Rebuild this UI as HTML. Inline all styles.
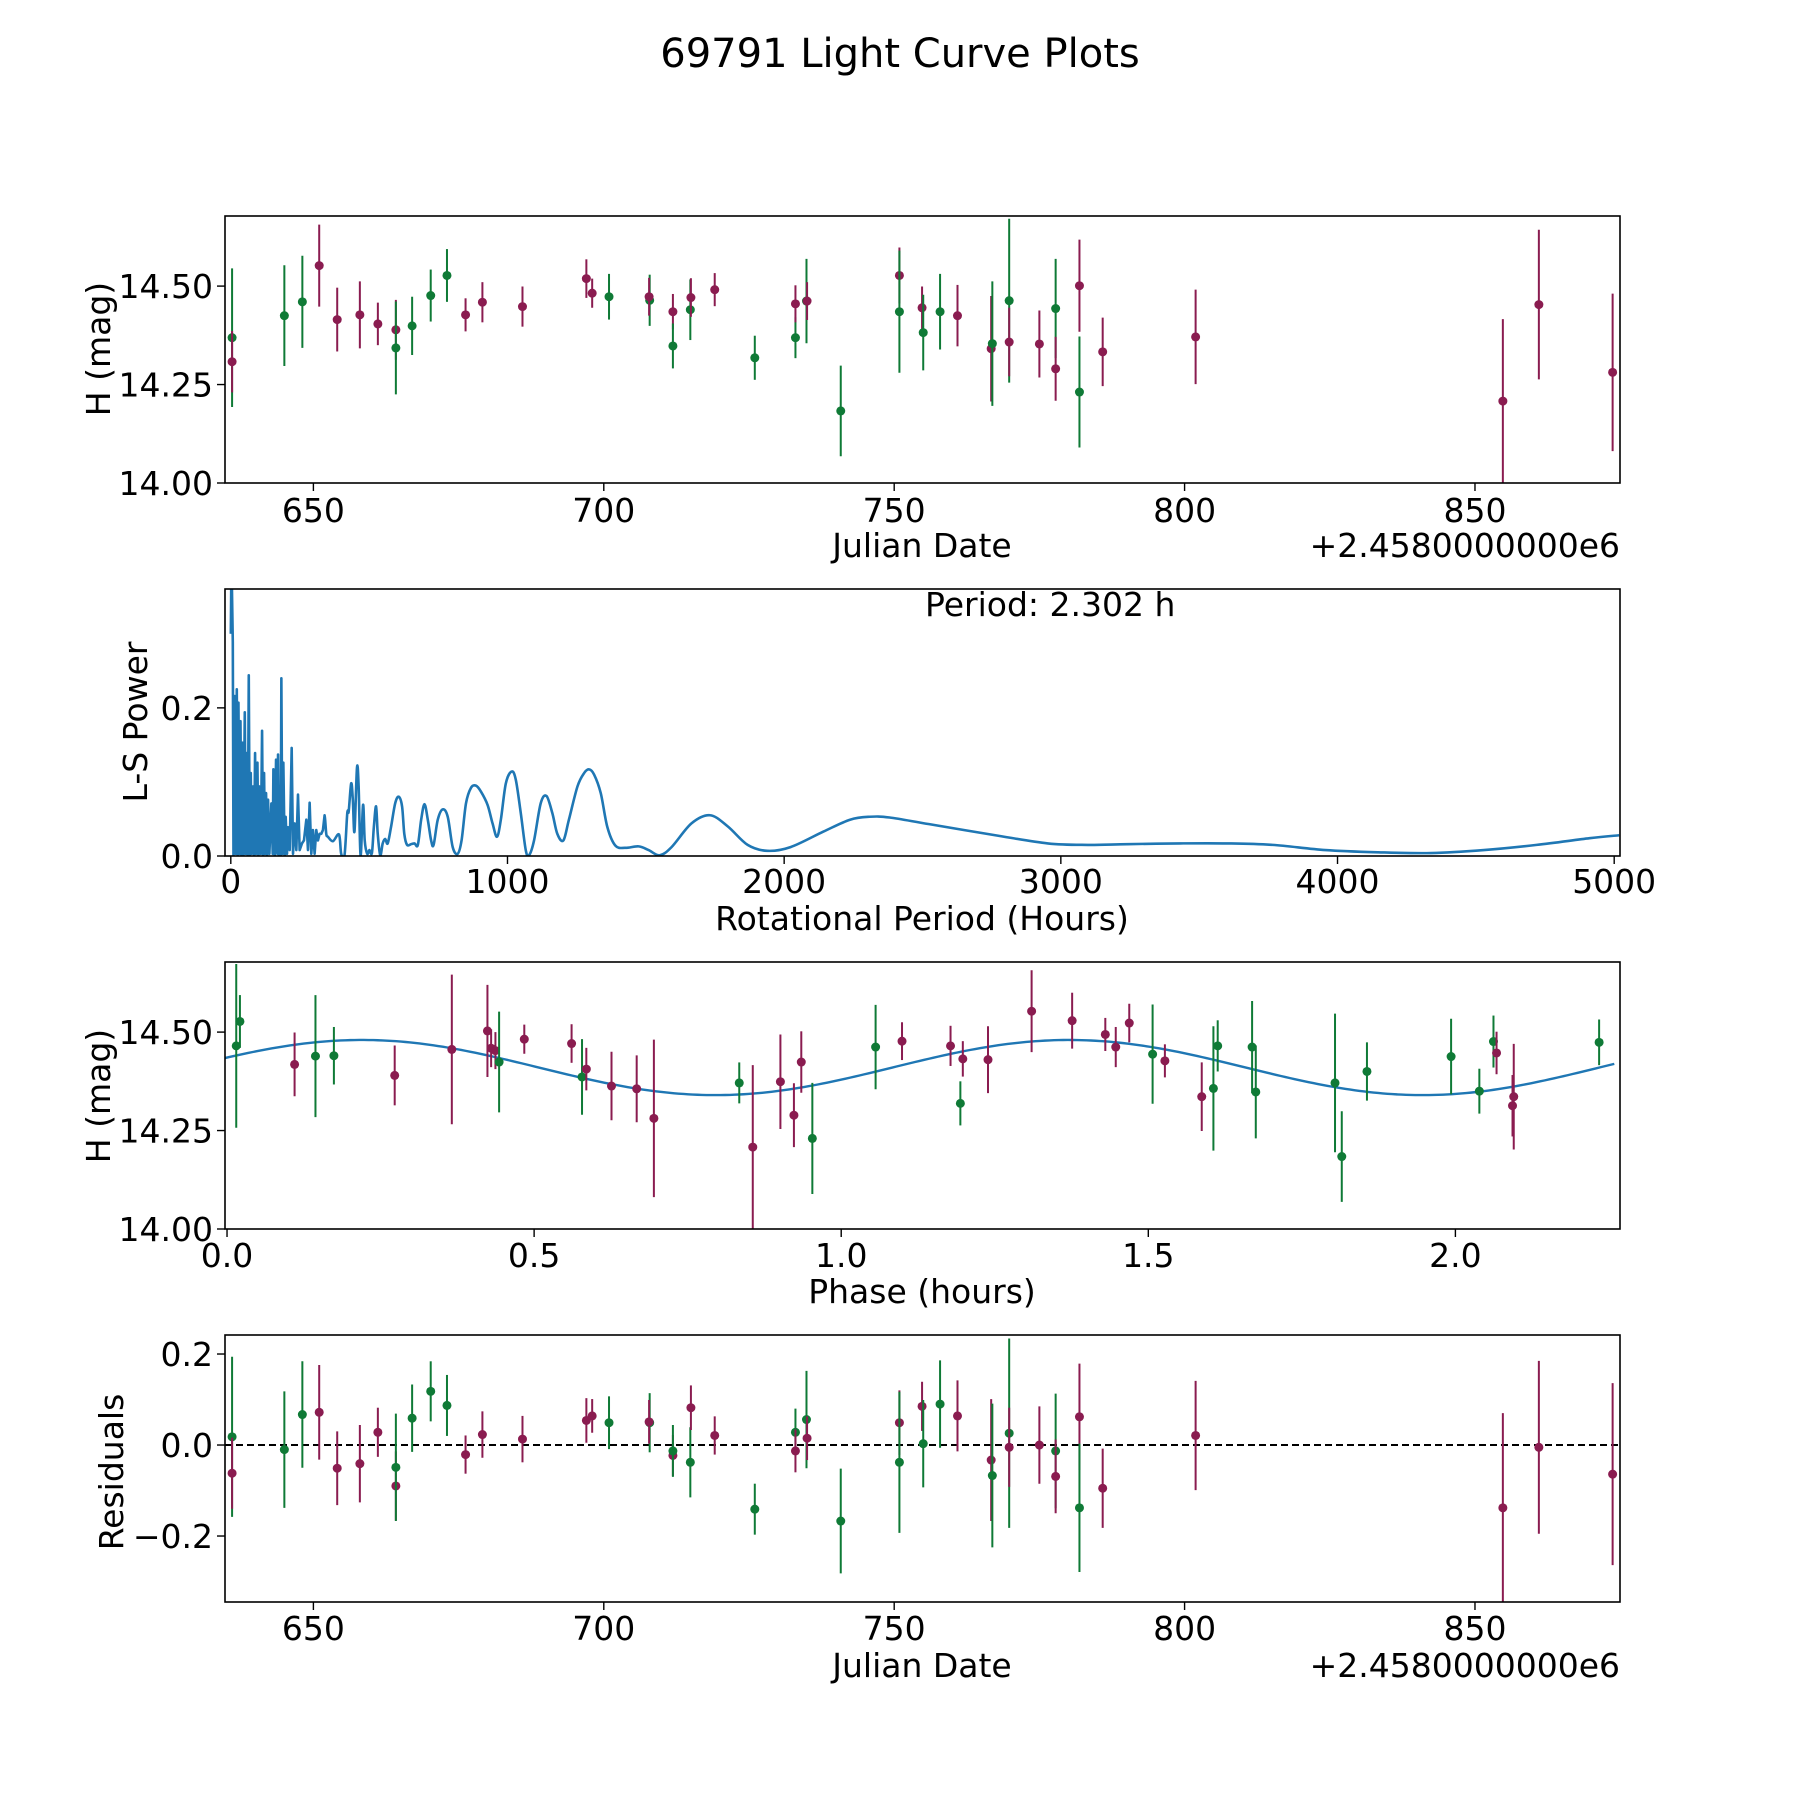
<!DOCTYPE html>
<html><head><meta charset="utf-8"><title>69791 Light Curve Plots</title>
<style>
html,body{margin:0;padding:0;background:#fff;}
svg{display:block;font-family:"DejaVu Sans","Liberation Sans",sans-serif;}
</style></head>
<body>
<svg id="fig" width="1800" height="1800" viewBox="0 0 1800 1800" xmlns="http://www.w3.org/2000/svg">
<rect width="1800" height="1800" fill="#fff"/>
<text x="900" y="67" font-size="40" text-anchor="middle">69791 Light Curve Plots</text>
</svg>
<script>
// ---------- data: light curve ----------
const jd = [636.0,636.0,645.0,648.1,651.0,654.1,658.0,661.1,664.2,664.2,667.0,670.2,673.0,676.2,679.1,686.0,697.0,698.0,700.9,707.9,707.8,711.9,711.9,714.9,715.0,719.1,726.0,733.0,733.0,734.9,735.0,740.8,750.9,750.9,754.8,755.0,757.9,760.9,766.7,766.9,769.8,769.8,775.0,777.8,777.8,781.9,781.9,785.9,801.9,854.8,861.0,873.7];
const band = ["G","M","G","G","M","M","M","M","M","G","G","G","G","M","M","M","M","M","G","G","M","M","G","G","M","M","G","G","M","G","M","G","M","G","M","G","G","M","M","G","G","M","M","G","M","M","G","M","M","M","M","M"];
const mag = [14.369,14.308,14.425,14.460,14.552,14.415,14.427,14.404,14.389,14.343,14.399,14.476,14.527,14.427,14.459,14.448,14.519,14.482,14.473,14.464,14.473,14.435,14.348,14.440,14.471,14.491,14.318,14.369,14.455,14.462,14.462,14.183,14.527,14.435,14.445,14.382,14.435,14.425,14.341,14.354,14.463,14.358,14.353,14.443,14.290,14.501,14.231,14.333,14.371,14.208,14.453,14.281];
const magErr = [0.176,0.078,0.128,0.117,0.104,0.081,0.085,0.054,0.076,0.118,0.074,0.066,0.067,0.042,0.051,0.051,0.049,0.037,0.058,0.065,0.048,0.045,0.057,0.077,0.049,0.042,0.056,0.052,0.047,0.107,0.048,0.115,0.071,0.155,0.054,0.096,0.096,0.078,0.134,0.158,0.208,0.087,0.085,0.126,0.081,0.117,0.141,0.087,0.120,0.208,0.19,0.2];
const resid = [0.018,-0.062,-0.010,0.067,0.072,-0.051,-0.041,0.028,-0.090,-0.049,0.059,0.118,0.087,-0.021,0.023,0.013,0.054,0.064,0.049,0.049,0.051,-0.023,-0.013,-0.038,0.082,0.021,-0.141,0.028,-0.013,0.056,0.015,-0.167,0.049,-0.038,0.085,0.003,0.090,0.064,-0.033,-0.067,0.026,-0.005,0.0,-0.013,-0.069,0.062,-0.138,-0.095,0.021,-0.138,-0.005,-0.064];
// ---------- data: phased ----------
const phase = [0.015,0.021,0.110,0.144,0.174,0.273,0.366,0.424,0.430,0.437,0.443,0.484,0.561,0.578,0.585,0.626,0.667,0.695,0.834,0.856,0.901,0.923,0.935,0.953,1.056,1.099,1.178,1.194,1.198,1.239,1.310,1.376,1.430,1.447,1.469,1.507,1.527,1.587,1.606,1.613,1.669,1.675,1.804,1.815,1.856,1.993,2.039,2.062,2.067,2.093,2.095,2.234];
const phaseMag = [14.465,14.527,14.418,14.439,14.44,14.39,14.456,14.503,14.459,14.453,14.424,14.482,14.471,14.386,14.406,14.363,14.356,14.281,14.371,14.208,14.374,14.289,14.424,14.23,14.462,14.477,14.465,14.319,14.432,14.43,14.553,14.529,14.494,14.462,14.523,14.444,14.427,14.336,14.357,14.465,14.462,14.348,14.371,14.184,14.4,14.438,14.35,14.476,14.447,14.313,14.336,14.474];
const phaseErr = [0.208,0.067,0.081,0.155,0.073,0.076,0.19,0.117,0.048,0.047,0.128,0.037,0.049,0.096,0.054,0.087,0.085,0.2,0.052,0.208,0.12,0.081,0.078,0.141,0.107,0.048,0.051,0.056,0.045,0.085,0.104,0.071,0.042,0.051,0.049,0.126,0.042,0.087,0.158,0.065,0.117,0.118,0.176,0.115,0.074,0.096,0.057,0.066,0.054,0.078,0.134,0.058];
const phaseBand = ["G","G","M","G","G","M","M","M","M","M","G","M","M","G","M","M","M","M","G","M","M","M","M","G","G","M","M","G","M","M","M","M","M","M","M","G","M","M","G","G","G","G","G","G","G","G","G","G","M","M","M","G"];
// fitted model parameters: mean, amplitude, period (h), phase of max
const modelParams = [14.41, 0.07, 1.151, 0.22];
// ---------- data: periodogram ----------
const lsPeriod = [0,2.4,7.2,9.6,14.4,18,21.6,25.2,27.6,31.3,34.9,38.5,42.1,45.7,50.5,54.1,57.7,61.3,64.9,68.5,72.1,75.7,80.5,84.1,87.7,91.4,96.2,99.8,103.4,108.2,113,116.6,120.2,123.8,127.4,131,134.6,139.4,146.6,151.5,153.9,158.7,163.5,168.3,170.7,174.3,177.9,180.3,182.7,186.3,189.9,194.7,198.3,203.1,206.7,212.8,220,224.8,230.8,236.8,242.8,248.8,257.2,264.4,272.9,278.9,284.9,290.9,296.9,302.9,308.9,314.9,320.9,326.9,333,339,345,351,369,391,399,411,421,426,435,441,447,456,462,469,478,484,493,501,510,517,525,531,540,549,558,567,579,594,607,619,627,637,652,664,676,688,700,712,724,733,748,766,784,802,820,834,850,868,886,904,928,946,962,976,994,1015,1030,1048,1066,1078,1096,1120,1141,1162,1180,1202,1222,1253,1277,1295,1313,1337,1361,1390,1426,1474,1510,1550,1593,1665,1732,1796,1868,1939,2023,2142,2238,2309,2381,2524,2763,2953,3097,3240,3431,3598,3765,3956,4147,4338,4529,4720,4911,5018];
const lsPower = [0.30,0.40,0.289,0.001,0.216,0.003,0.225,0.001,0.207,0.003,0.182,0.001,0.153,0.001,0.194,0.003,0.139,0.001,0.244,0.001,0.112,0.003,0.094,0.001,0.139,0.003,0.126,0.001,0.094,0.003,0.169,0.001,0.112,0.003,0.085,0.001,0.076,0.003,0.071,0.003,0.117,0.001,0.130,0.003,0.137,0.001,0.094,0.001,0.240,0.003,0.126,0.001,0.053,0.003,0.039,0.008,0.146,0.003,0.044,0.008,0.083,0.008,0.017,0.021,0.049,0.008,0.072,0.003,0.035,0.003,0.035,0.021,0.030,0.030,0.035,0.055,0.030,0.026,0.020,0.029,0.003,0.001,0.058,0.060,0.098,0.076,0.033,0.119,0.094,0.001,0.069,0.021,0.003,0.008,0.004,0.039,0.067,0.030,0.001,0.017,0.023,0.017,0.039,0.071,0.080,0.067,0.030,0.015,0.016,0.017,0.015,0.049,0.070,0.049,0.021,0.015,0.049,0.063,0.053,0.012,0.003,0.021,0.071,0.092,0.095,0.087,0.069,0.044,0.026,0.049,0.098,0.114,0.103,0.058,0.008,0.001,0.021,0.071,0.081,0.058,0.030,0.021,0.049,0.094,0.112,0.117,0.110,0.085,0.039,0.014,0.011,0.013,0.008,0.001,0.012,0.044,0.055,0.040,0.015,0.007,0.012,0.033,0.049,0.053,0.052,0.043,0.028,0.017,0.015,0.016,0.017,0.017,0.015,0.008,0.005,0.004,0.008,0.015,0.024,0.028];
// ---------- tick labels ----------
const jdTicks = [650,700,750,800,850];
const magTicks = [14.00,14.25,14.50];
const magTickLabels = ["14.00","14.25","14.50"];
const lsXTicks = [0,1000,2000,3000,4000,5000];
const lsYTicks = [0.0,0.2];
const lsYTickLabels = ["0.0","0.2"];
const phaseTicks = [0.0,0.5,1.0,1.5,2.0];
const phaseTickLabels = ["0.0","0.5","1.0","1.5","2.0"];
const residTicks = [-0.2,0.0,0.2];
const residTickLabels = ["\u22120.2","0.0","0.2"];

const NS = "http://www.w3.org/2000/svg";
const svg = document.getElementById("fig");
const GREEN = "#0f7a36", MAROON = "#8a1c50", BLUE = "#1f77b4";
const L = 225, R = 1620;
function el(tag, attrs, parent){
  const e = document.createElementNS(NS, tag);
  for (const k in attrs) e.setAttribute(k, attrs[k]);
  (parent || svg).appendChild(e);
  return e;
}
function scale(d0, d1, r0, r1){ return v => r0 + (v - d0) * (r1 - r0) / (d1 - d0); }

function panel(name, top, bottom, xdom, ydom){
  const g = el("g", {});
  
  
  const x = scale(xdom[0], xdom[1], L, R);
  const y = scale(ydom[0], ydom[1], bottom, top);
  const cid = name + "-clip";
  const cp = el("clipPath", {id: cid}, g);
  el("rect", {x: L, y: top, width: R - L, height: bottom - top}, cp);
  const plot = el("g", {"clip-path": "url(#" + cid + ")"}, g);
  
  
  return {g, plot, x, y, top, bottom};
}
function frame(p){
  const f = el("rect", {x: L, y: p.top, width: R - L, height: p.bottom - p.top, fill: "none", stroke: "#000", "stroke-width": 1.6}, p.g);
  
  
}
function xTicks(p, vals, labels, labelY){
  vals.forEach((v, i) => {
    const xx = p.x(v);
    const t = el("line", {x1: xx, x2: xx, y1: p.bottom, y2: p.bottom + 8, stroke: "#000", "stroke-width": 1.4}, p.g);
    
    
    const tx = el("text", {x: xx, y: labelY, "font-size": 33, "text-anchor": "middle"}, p.g);
    
    
    tx.textContent = labels[i];
  });
}
function yTicks(p, vals, labels){
  vals.forEach((v, i) => {
    const yy = p.y(v);
    const t = el("line", {x1: L - 8, x2: L, y1: yy, y2: yy, stroke: "#000", "stroke-width": 1.4}, p.g);
    
    
    const tx = el("text", {x: L - 12, y: yy + 12, "font-size": 33, "text-anchor": "end"}, p.g);
    
    
    tx.textContent = labels[i];
  });
}
function label(p, txt, x, y, rot, name, anchor){
  const t = el("text", {x: x, y: y, "font-size": 33, "text-anchor": anchor || "middle"}, p.g);
  if (rot) t.setAttribute("transform", "rotate(-90 " + x + " " + y + ")");
  
  
  t.textContent = txt;
}
function errPoints(p, xs, ys, es, bs, name){
  xs.forEach((xv, i) => {
    const c = bs[i] === "G" ? GREEN : MAROON;
    const xx = p.x(xv);
    const ln = el("line", {x1: xx, x2: xx, y1: p.y(ys[i] - es[i]), y2: p.y(ys[i] + es[i]), stroke: c, "stroke-width": 2}, p.plot);
    
    
    const dot = el("circle", {cx: xx, cy: p.y(ys[i]), r: 4.5, fill: c}, p.plot);
    
    
  });
}

// ---- Panel 1: light curve ----
const p1 = panel("light-curve-panel", 216, 483, [634.78, 874.97], [14.0, 14.678]);
errPoints(p1, jd, mag, magErr, band, "magnitude");
frame(p1);
xTicks(p1, jdTicks, jdTicks.map(String), 522);
yTicks(p1, magTicks, magTickLabels);
label(p1, "Julian Date", 922, 557, false, "x-axis-title");
label(p1, "+2.4580000000e6", 1620, 557, false, "x-axis-offset", "end");
label(p1, "H (mag)", 110, 349, true, "y-axis-title");

// ---- Panel 2: periodogram ----
const p2 = panel("periodogram-panel", 589, 856, [-21, 5021], [0, 0.3605]);
const pts = lsPeriod.map((v, i) => [p2.x(v), p2.y(lsPower[i])]);
let d = "M" + pts[0][0].toFixed(2) + " " + pts[0][1].toFixed(2);
for (let i = 1; i < pts.length; i++) {
  if (lsPeriod[i] <= 340) {
    d += "L" + pts[i][0].toFixed(2) + " " + pts[i][1].toFixed(2);
  } else {
    const p0 = pts[Math.max(i - 2, 0)], pa = pts[i - 1], pb = pts[i], p3 = pts[Math.min(i + 1, pts.length - 1)];
    const c1x = pa[0] + (pb[0] - p0[0]) / 6, c1y = pa[1] + (pb[1] - p0[1]) / 6;
    const c2x = pb[0] - (p3[0] - pa[0]) / 6, c2y = pb[1] - (p3[1] - pa[1]) / 6;
    d += "C" + c1x.toFixed(2) + " " + c1y.toFixed(2) + " " + c2x.toFixed(2) + " " + c2y.toFixed(2) + " " + pb[0].toFixed(2) + " " + pb[1].toFixed(2);
  }
}
const lsLine = el("path", {d: d, fill: "none", stroke: BLUE, "stroke-width": 2.6, "stroke-linejoin": "round"}, p2.plot);


frame(p2);
xTicks(p2, lsXTicks, lsXTicks.map(String), 893);
yTicks(p2, lsYTicks, lsYTickLabels);
label(p2, "Rotational Period (Hours)", 922, 930, false, "x-axis-title");
label(p2, "L-S Power", 147, 722, true, "y-axis-title");
label(p2, "Period: 2.302 h", 925, 616, false, "period-annotation", "start");

// ---- Panel 3: phased light curve ----
const p3 = panel("phased-panel", 962, 1229, [-0.0033, 2.268], [14.0, 14.678]);
let md = "";
for (let k = 0; k <= 300; k++) {
  const ph = -0.0033 + k * (2.262 / 300);
  const m = modelParams[0] + modelParams[1] * Math.cos(2 * Math.PI * (ph - modelParams[3]) / modelParams[2]);
  md += (k ? "L" : "M") + p3.x(ph).toFixed(2) + " " + p3.y(m).toFixed(2);
}
const model = el("path", {d: md, fill: "none", stroke: BLUE, "stroke-width": 2.4}, p3.plot);


errPoints(p3, phase, phaseMag, phaseErr, phaseBand, "phased");
frame(p3);
xTicks(p3, phaseTicks, phaseTickLabels, 1267);
yTicks(p3, magTicks, magTickLabels);
label(p3, "Phase (hours)", 922, 1303, false, "x-axis-title");
label(p3, "H (mag)", 110, 1096, true, "y-axis-title");

// ---- Panel 4: residuals ----
const p4 = panel("residuals-panel", 1335, 1602, [634.78, 874.97], [-0.345, 0.2418]);
const zl = el("line", {x1: L, x2: R, y1: p4.y(0), y2: p4.y(0), stroke: "#000", "stroke-width": 2, "stroke-dasharray": "7,4"}, p4.plot);


errPoints(p4, jd, resid, magErr, band, "residual");
frame(p4);
xTicks(p4, jdTicks, jdTicks.map(String), 1640);
yTicks(p4, residTicks, residTickLabels);
label(p4, "Julian Date", 922, 1677, false, "x-axis-title");
label(p4, "+2.4580000000e6", 1620, 1677, false, "x-axis-offset", "end");
label(p4, "Residuals", 123, 1472, true, "y-axis-title");
</script>
</body></html>
